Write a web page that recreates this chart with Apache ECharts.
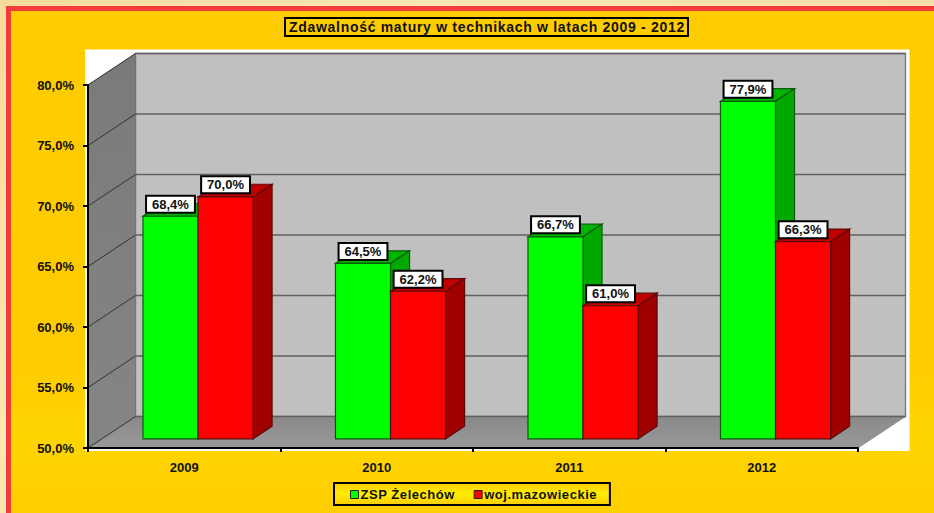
<!DOCTYPE html>
<html>
<head>
<meta charset="utf-8">
<style>
html,body{margin:0;padding:0;width:934px;height:513px;overflow:hidden;background:linear-gradient(135deg,#f6db9c,#fbe6b4 30%,#f5d897);}
#frame{position:absolute;left:6px;top:6px;width:928px;height:507px;box-sizing:border-box;border-left:5px solid #f23b3b;border-top:5px solid #f23b3b;background:linear-gradient(180deg,#ffcc00,#ffcc00 70%,#ffd500 85%,#ffcf00);}
#main{position:absolute;left:0;top:0;width:934px;height:513px;}
</style>
<script src="https://cdn.jsdelivr.net/npm/echarts@6/dist/echarts.min.js"></script>
</head>
<body>
<div id="frame"></div>
<div id="main"></div>
<script>
var titleText = 'Zdawalność matury w technikach w latach 2009 - 2012';
var legendNames = ['ZSP Żelechów', 'woj.mazowieckie'];
var years = ['2009', '2010', '2011', '2012'];
var zspValues = [68.4, 64.5, 66.7, 77.9];
var wojValues = [70.0, 62.2, 61.0, 66.3];
var yTicks = [50, 55, 60, 65, 70, 75, 80];

// głębokość "3D" wykresu w pikselach
var DX = 47.5;
var DY = -31.5;
var BAR_OFFSET = 0.29;
var BAR_DEPTH = 0.4;
var font = '"Liberation Sans", Arial, sans-serif';

function poly(points, fill, stroke, lineWidth) {
	return {
		type: 'polygon',
		shape: { points: points },
		style: { fill: fill, stroke: stroke || null, lineWidth: lineWidth || 0 }
	};
}

function vGrad(c1, c2) {
	return { type: 'linear', x: 0, y: 0, x2: 0, y2: 1, colorStops: [{ offset: 0, color: c1 }, { offset: 1, color: c2 }] };
}

// sciany i podloga
function renderWalls(params, api) {
	var r = params.coordSys;
	var x0 = r.x, x1 = r.x + r.width, y0 = r.y, y1 = r.y + r.height;
	return {
		type: 'group',
		children: [
			{ type: 'rect', shape: { x: x0 - 3, y: y0 + DY - 4, width: r.width + DX + 7, height: r.height - DY + 7 }, style: { fill: '#fff' } },
			poly([[x0 + DX, y0 + DY], [x1 + DX, y0 + DY], [x1 + DX, y1 + DY], [x0 + DX, y1 + DY]], '#c0c0c0', '#808080', 1.5),
			poly([[x0, y1], [x0, y0], [x0 + DX, y0 + DY], [x0 + DX, y1 + DY]], vGrad('#7a7a7a', '#858585'), '#6a6a6a', 0.5),
			poly([[x0, y1], [x1, y1], [x1 + DX, y1 + DY], [x0 + DX, y1 + DY]], vGrad('#8a8a8a', '#999999'), '#6a6a6a', 0.5)
		]
	};
}

// linie siatki na scianach
function renderGrid(params, api) {
	var p = api.coord([0, api.value(0)]);
	var r = params.coordSys;
	var y = p[1];
	return {
		type: 'group',
		children: [
			{ type: 'line', shape: { x1: r.x, y1: y, x2: r.x + DX, y2: y + DY }, style: { stroke: '#333', lineWidth: 1 } },
			{ type: 'line', shape: { x1: r.x + DX, y1: y + DY, x2: r.x + r.width + DX, y2: y + DY }, style: { stroke: '#606060', lineWidth: 1.5 } }
		]
	};
}

function makeBarRender(seriesPos, front, side, top, edge) {
	return function (params, api) {
		var band = api.size([1, 0])[0];
		var w = band * 0.286;
		var c = api.coord([api.value(0), api.value(1)]);
		var base = api.coord([api.value(0), 50]);
		var l = c[0] + DX * BAR_OFFSET + (seriesPos - 1) * w;
		var r = l + w;
		var t = c[1] + DY * BAR_OFFSET;
		var b = base[1] + DY * BAR_OFFSET;
		var dx = DX * BAR_DEPTH, dy = DY * BAR_DEPTH;
		return {
			type: 'group',
			children: [
				poly([[l, t], [r, t], [r + dx, t + dy], [l + dx, t + dy]], top, edge, 1.2),
				poly([[r, t], [r + dx, t + dy], [r + dx, b + dy], [r, b]], side, edge, 1.2),
				poly([[l, t], [r, t], [r, b], [l, b]], front, edge, 1.2)
			]
		};
	};
}

function makeLabelRender(seriesPos) {
	return function (params, api) {
		var band = api.size([1, 0])[0];
		var w = band * 0.286;
		var c = api.coord([api.value(0), api.value(1)]);
		var l = c[0] + DX * BAR_OFFSET + (seriesPos - 1) * w;
		var t = c[1] + DY * BAR_OFFSET;
		return {
			type: 'text',
			style: {
				text: api.value(1).toFixed(1).replace('.', ',') + '%',
				x: l + w / 2,
				y: t - 4.5,
				align: 'center',
				verticalAlign: 'bottom',
				font: 'bold 13px ' + font,
				fill: '#111',
				backgroundColor: '#fff',
				borderColor: '#000',
				borderWidth: 2,
				padding: [1, 5, 1, 5]
			}
		};
	};
}

function indexed(arr) {
	return arr.map(function (v, i) { return [i, v]; });
}

var option = {
	animation: false,
	backgroundColor: 'transparent',
	textStyle: { fontFamily: font },
	title: {
		text: titleText,
		left: 285,
		top: 18,
		padding: [2, 39, 2, 4],
		backgroundColor: '#ffcc00',
		borderColor: '#000',
		borderWidth: 2,
		textStyle: { fontFamily: font, fontSize: 14, fontWeight: 'bold', color: '#111' }
	},
	legend: {
		left: 334,
		top: 483,
		padding: [5, 21, 4, 16],
		itemWidth: 8,
		itemHeight: 8,
		itemGap: 25,
		icon: 'rect',
		data: legendNames,
		backgroundColor: { type: 'linear', x: 0, y: 0, x2: 0, y2: 1, colorStops: [{ offset: 0, color: '#ffcc00' }, { offset: 0.5, color: '#ffee00' }, { offset: 1, color: '#ffcc00' }] },
		borderColor: '#000',
		borderWidth: 2,
		itemStyle: { borderColor: '#222', borderWidth: 1 },
		textStyle: { fontFamily: font, fontSize: 13, fontWeight: 'bold', color: '#111', padding: [0, 0, 0, -3] }
	},
	grid: { left: 88, right: 76, top: 85, bottom: 65 },
	xAxis: {
		type: 'category',
		data: years,
		z: 5,
		axisLine: { lineStyle: { color: '#000', width: 2 } },
		axisTick: { show: true, alignWithLabel: false, length: 4, lineStyle: { color: '#000', width: 2 } },
		axisLabel: { fontFamily: font, fontSize: 13, fontWeight: 'bold', color: '#111', margin: 13 },
		splitLine: { show: false }
	},
	yAxis: {
		type: 'value',
		min: 50,
		max: 80,
		interval: 5,
		z: 5,
		axisLine: { show: true, lineStyle: { color: '#000', width: 2 } },
		axisTick: { show: true, length: 5, lineStyle: { color: '#000', width: 2 } },
		axisLabel: {
			fontFamily: font, fontSize: 13, fontWeight: 'bold', color: '#111', margin: 14, padding: [2, 0, 0, 0],
			formatter: function (v) { return v.toFixed(1).replace('.', ',') + '%'; }
		},
		splitLine: { show: false }
	},
	series: [
		{ type: 'custom', silent: true, z: 1, renderItem: renderWalls, data: [[0, 50]], encode: { x: 0, y: 1 } },
		{ type: 'custom', silent: true, z: 2, renderItem: renderGrid, data: yTicks.map(function (v) { return [v]; }), encode: { y: 0 } },
		{ type: 'custom', name: legendNames[0], z: 3, renderItem: makeBarRender(0, '#00ff00', '#00a800', '#00b400', '#0a5a0a'), data: indexed(zspValues), encode: { x: 0, y: 1 }, itemStyle: { color: '#00ff00' } },
		{ type: 'custom', name: legendNames[1], z: 4, renderItem: makeBarRender(1, '#ff0000', '#a00000', '#c00000', '#5a0a0a'), data: indexed(wojValues), encode: { x: 0, y: 1 }, itemStyle: { color: '#ff0000' } },
		{ type: 'custom', silent: true, z: 6, renderItem: makeLabelRender(0), data: indexed(zspValues), encode: { x: 0, y: 1 } },
		{ type: 'custom', silent: true, z: 6, renderItem: makeLabelRender(1), data: indexed(wojValues), encode: { x: 0, y: 1 } }
	]
};

// svg, zeby dalo sie rozstawic litery w tytule i legendzie
var myChart = echarts.init(document.getElementById('main'), null, { renderer: 'svg' });
myChart.setOption(option);

document.querySelectorAll('#main text').forEach(function (t) {
	if (t.textContent === titleText) t.style.letterSpacing = '0.7px';
	if (legendNames.indexOf(t.textContent) >= 0) t.style.letterSpacing = '0.55px';
});
</script>
</body>
</html>
